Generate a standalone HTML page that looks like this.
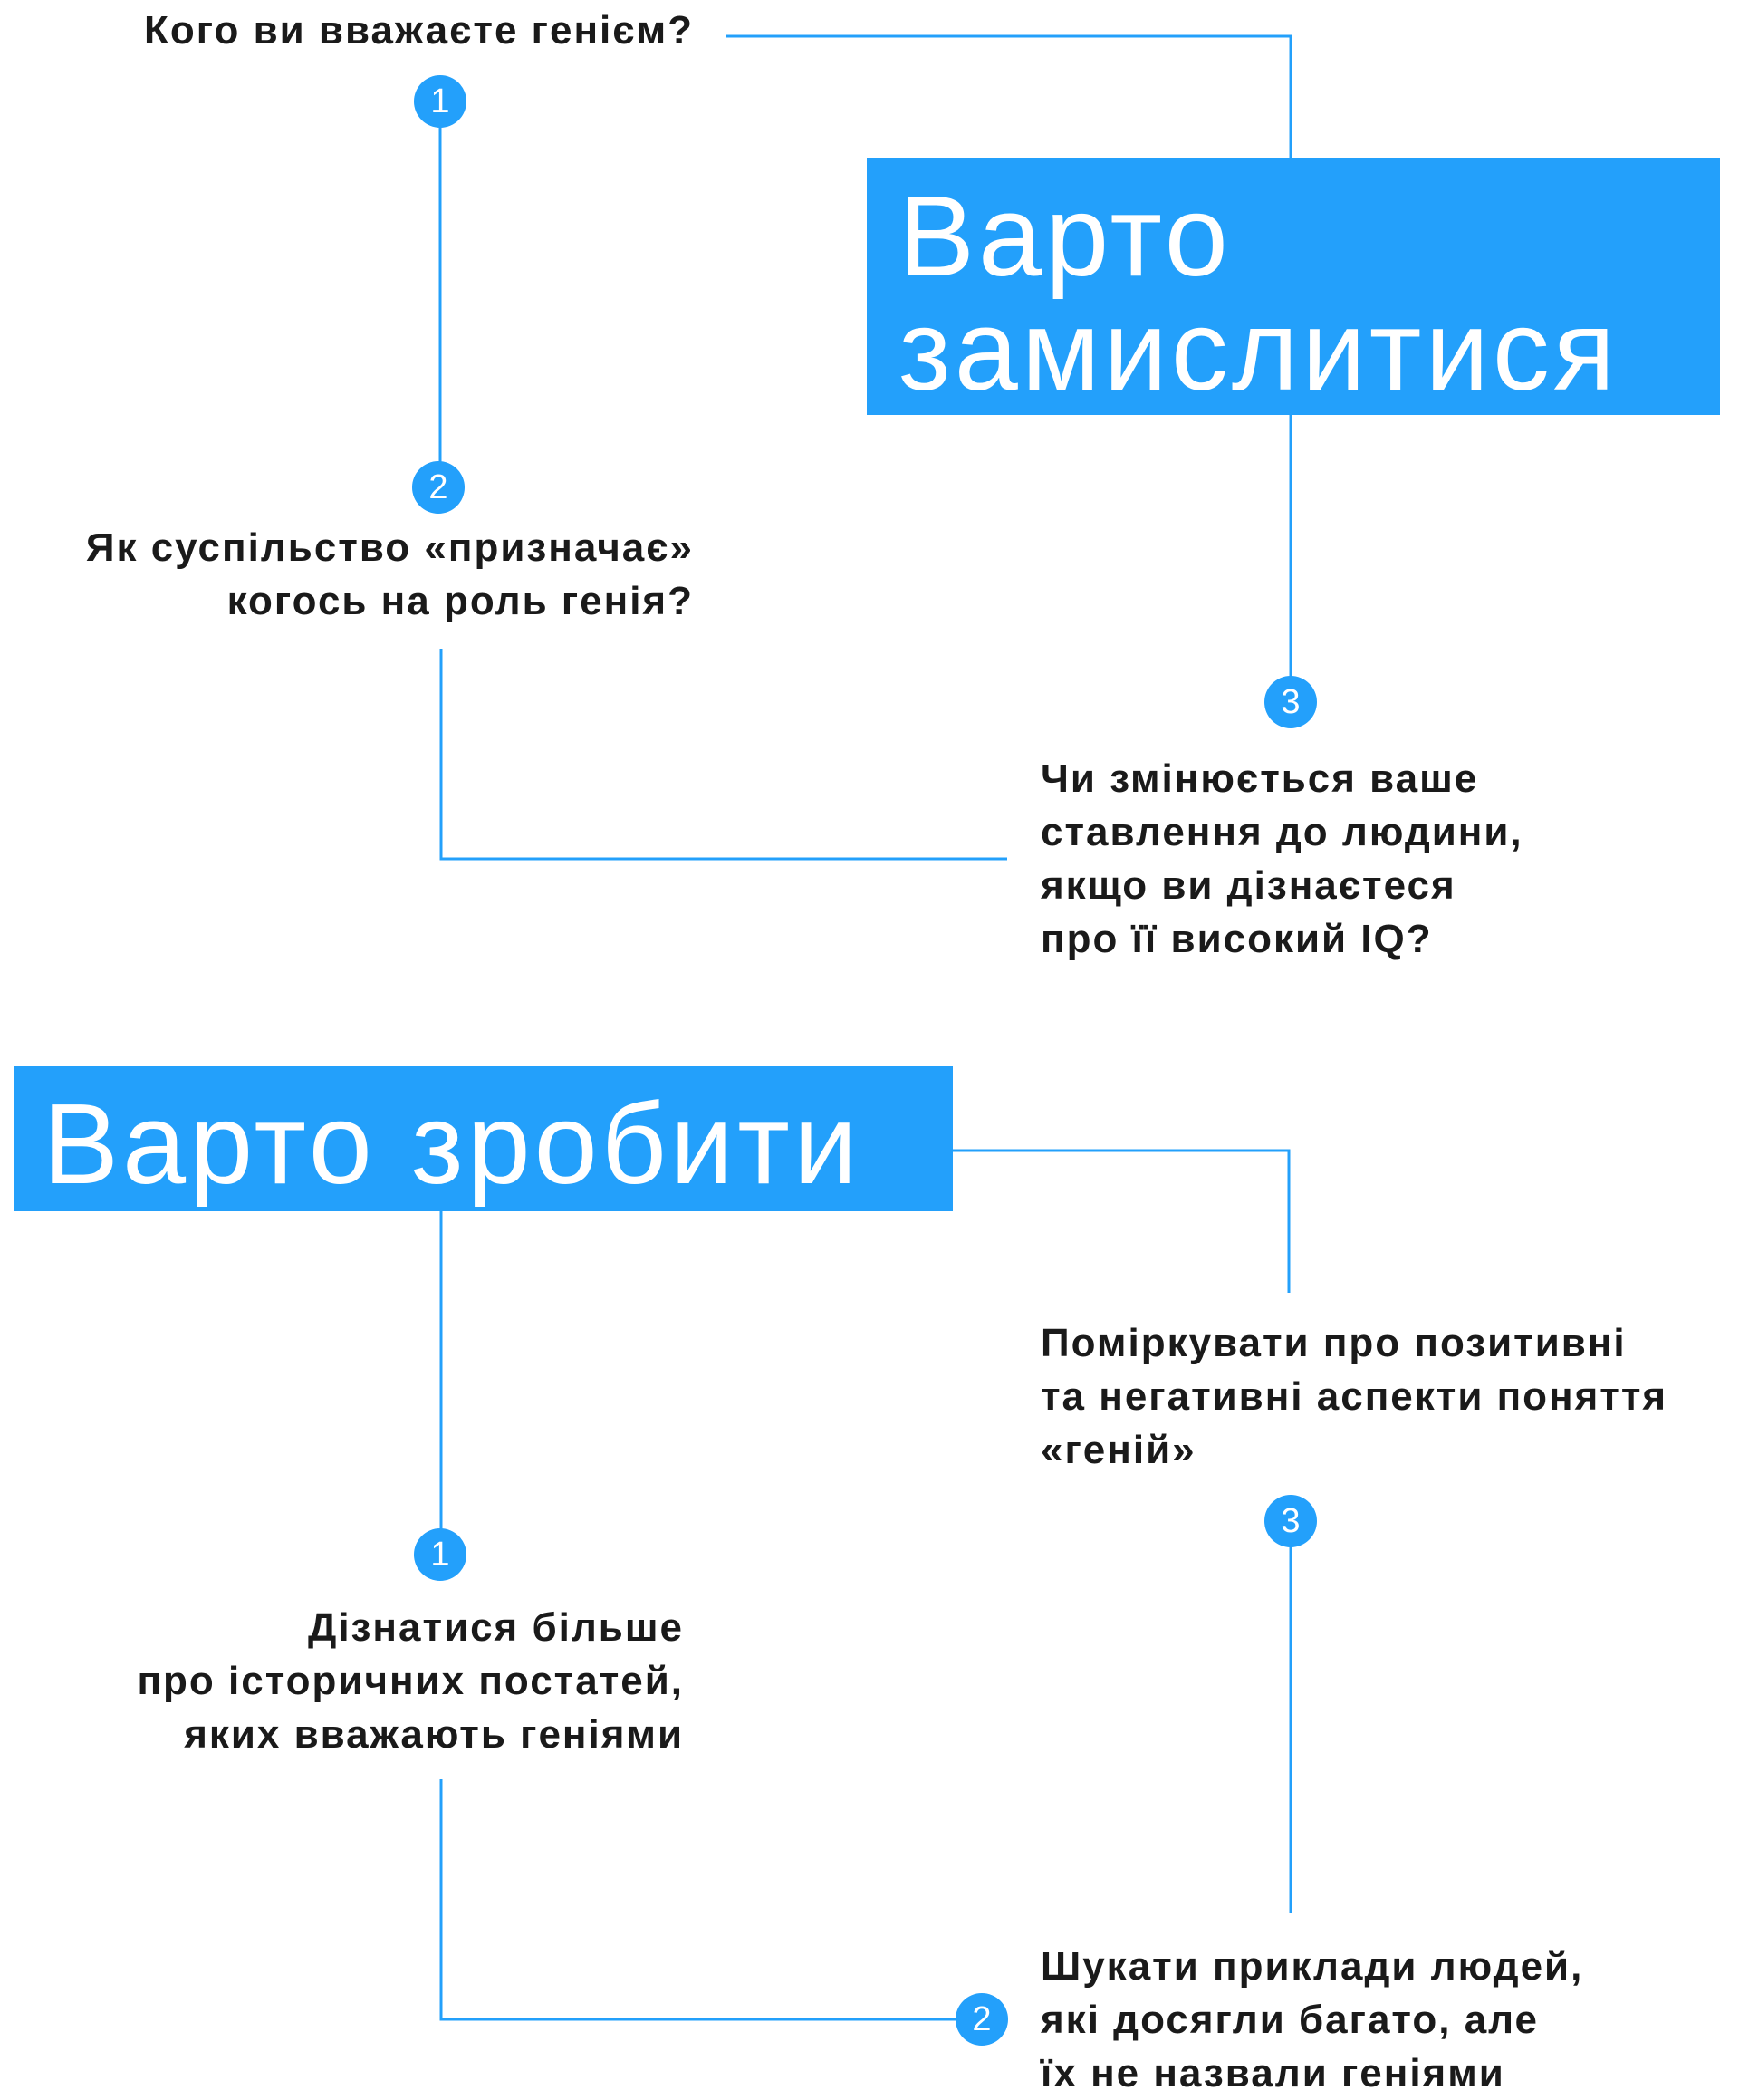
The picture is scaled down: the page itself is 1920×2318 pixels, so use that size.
<!DOCTYPE html>
<html><head><meta charset="utf-8"><style>
body{margin:0;width:1920px;height:2317px;background:#fff;position:relative;overflow:hidden;font-family:"Liberation Sans","DejaVu Sans",sans-serif;}
.t{position:absolute;font-weight:bold;font-size:44px;letter-spacing:2px;line-height:59px;color:#1a1a1a;white-space:nowrap;}
.r{text-align:right}
.box{position:absolute;background:#23a0fb;color:#fff;}
.big{position:absolute;font-size:126px;letter-spacing:4px;line-height:126px;color:#fff;white-space:nowrap;}
svg{position:absolute;left:0;top:0}
.c{position:absolute;width:58px;height:58px;border-radius:50%;background:#23a0fb;color:#fff;font-size:38px;line-height:58px;text-align:center;}
</style></head><body>
<svg width="1920" height="2317">
<g stroke="#23a0fb" stroke-width="3" fill="none">
<polyline points="802,40 1425,40 1425,174"/>
<line x1="486" y1="140" x2="486" y2="512"/>
<line x1="1425" y1="458" x2="1425" y2="753"/>
<polyline points="487,716 487,948 1112,948"/>
<polyline points="1052,1270 1423,1270 1423,1427"/>
<line x1="487" y1="1337" x2="487" y2="1691"/>
<polyline points="487,1964 487,2229 1060,2229"/>
<line x1="1425" y1="1700" x2="1425" y2="2112"/>
</g></svg>
<div class="t r" style="right:1154px;top:4px">Кого ви вважаєте генієм?</div>
<div class="c" style="left:457px;top:83px">1</div>
<div class="box" style="left:957px;top:174px;width:942px;height:284px"></div>
<div class="big" style="left:992px;top:198px">Варто<br>замислитися</div>
<div class="c" style="left:455px;top:509px">2</div>
<div class="t r" style="right:1154px;top:575px">Як суспільство «призначає»<br>когось на роль генія?</div>
<div class="c" style="left:1396px;top:746px">3</div>
<div class="t" style="left:1149px;top:830px">Чи змінюється ваше<br>ставлення до людини,<br>якщо ви дізнаєтеся<br>про її високий IQ?</div>
<div class="box" style="left:15px;top:1177px;width:1037px;height:160px"></div>
<div class="big" style="left:47px;top:1200px">Варто зробити</div>
<div class="t" style="left:1149px;top:1453px">Поміркувати про позитивні<br>та негативні аспекти поняття<br>«геній»</div>
<div class="c" style="left:1396px;top:1650px">3</div>
<div class="c" style="left:457px;top:1687px">1</div>
<div class="t r" style="right:1165px;top:1767px">Дізнатися більше<br>про історичних постатей,<br>яких вважають геніями</div>
<div class="c" style="left:1055px;top:2200px">2</div>
<div class="t" style="left:1149px;top:2141px">Шукати приклади людей,<br>які досягли багато, але<br>їх не назвали геніями</div>
</body></html>
